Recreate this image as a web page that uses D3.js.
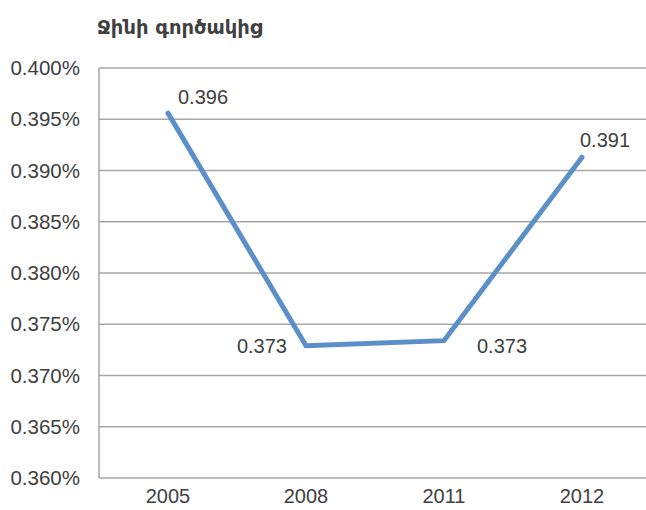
<!DOCTYPE html>
<html>
<head>
<meta charset="utf-8">
<script src="https://cdn.jsdelivr.net/npm/d3@7"></script>
<style>
  body { margin: 0; background: #fff; }
  svg { display: block; font-family: "Liberation Sans", Arial, sans-serif; }
</style>
</head>
<body>
<svg id="chart" width="646" height="510"></svg>
<script>
// chart data
const years = ["2005", "2008", "2011", "2012"];
const gini = [0.3956, 0.3729, 0.3734, 0.3913];
const labels = ["0.396", "0.373", "0.373", "0.391"];
const yTicks = [0.360, 0.365, 0.370, 0.375, 0.380, 0.385, 0.390, 0.395, 0.400];
const title = "Ջինի գործակից";

const svg = d3.select("#chart");
svg.selectAll("*").remove();

const plotLeft = 99, plotTop = 68, plotBottom = 478, plotRight = 651;

const x = d3.scaleBand().domain(years).range([plotLeft, plotRight]);
const y = d3.scaleLinear().domain([0.360, 0.400]).range([plotBottom, plotTop]);

// title
svg.append("text")
    .attr("x", 97).attr("y", 34)
    .attr("font-family", "'DejaVu Sans', sans-serif")
    .attr("font-weight", "bold")
    .attr("font-size", 19.5)
    .attr("fill", "#404040")
    .text(title);

// gridlines
svg.append("g")
    .selectAll("line")
    .data(yTicks)
    .join("line")
    .attr("x1", plotLeft).attr("x2", 646)
    .attr("y1", d => y(d)).attr("y2", d => y(d))
    .attr("stroke", "#a6a6a6")
    .attr("stroke-width", 1.5);

// left axis line
svg.append("line")
    .attr("x1", plotLeft).attr("x2", plotLeft)
    .attr("y1", plotTop).attr("y2", plotBottom)
    .attr("stroke", "#a6a6a6")
    .attr("stroke-width", 1.5);

// y tick labels
const fmt = d3.format(".3f");
svg.append("g")
    .selectAll("text")
    .data(yTicks)
    .join("text")
    .attr("x", 80)
    .attr("y", d => y(d) + 7)
    .attr("text-anchor", "end")
    .attr("font-size", 20.5)
    .attr("fill", "#404040")
    .text(d => fmt(d) + "%");

// x tick labels
svg.append("g")
    .selectAll("text")
    .data(years)
    .join("text")
    .attr("x", d => x(d) + x.bandwidth() / 2)
    .attr("y", 503)
    .attr("text-anchor", "middle")
    .attr("font-size", 20)
    .attr("fill", "#404040")
    .text(d => d);

// the line
const pts = years.map((yr, i) => [x(yr) + x.bandwidth() / 2, y(gini[i])]);
svg.append("path")
    .datum(pts)
    .attr("d", d3.line())
    .attr("fill", "none")
    .attr("stroke", "#5b8fc9")
    .attr("stroke-width", 5)
    .attr("stroke-linecap", "round")
    .attr("stroke-linejoin", "miter");

// data labels (offsets picked by eye)
const offs = [[10, -9, "start"], [-19, 7, "end"], [33, 12, "start"], [-2, -10, "start"]];
svg.append("g")
    .selectAll("text")
    .data(labels)
    .join("text")
    .attr("x", (d, i) => pts[i][0] + offs[i][0])
    .attr("y", (d, i) => pts[i][1] + offs[i][1])
    .attr("text-anchor", (d, i) => offs[i][2])
    .attr("font-size", 20)
    .attr("fill", "#404040")
    .text(d => d);
</script>
</body>
</html>
